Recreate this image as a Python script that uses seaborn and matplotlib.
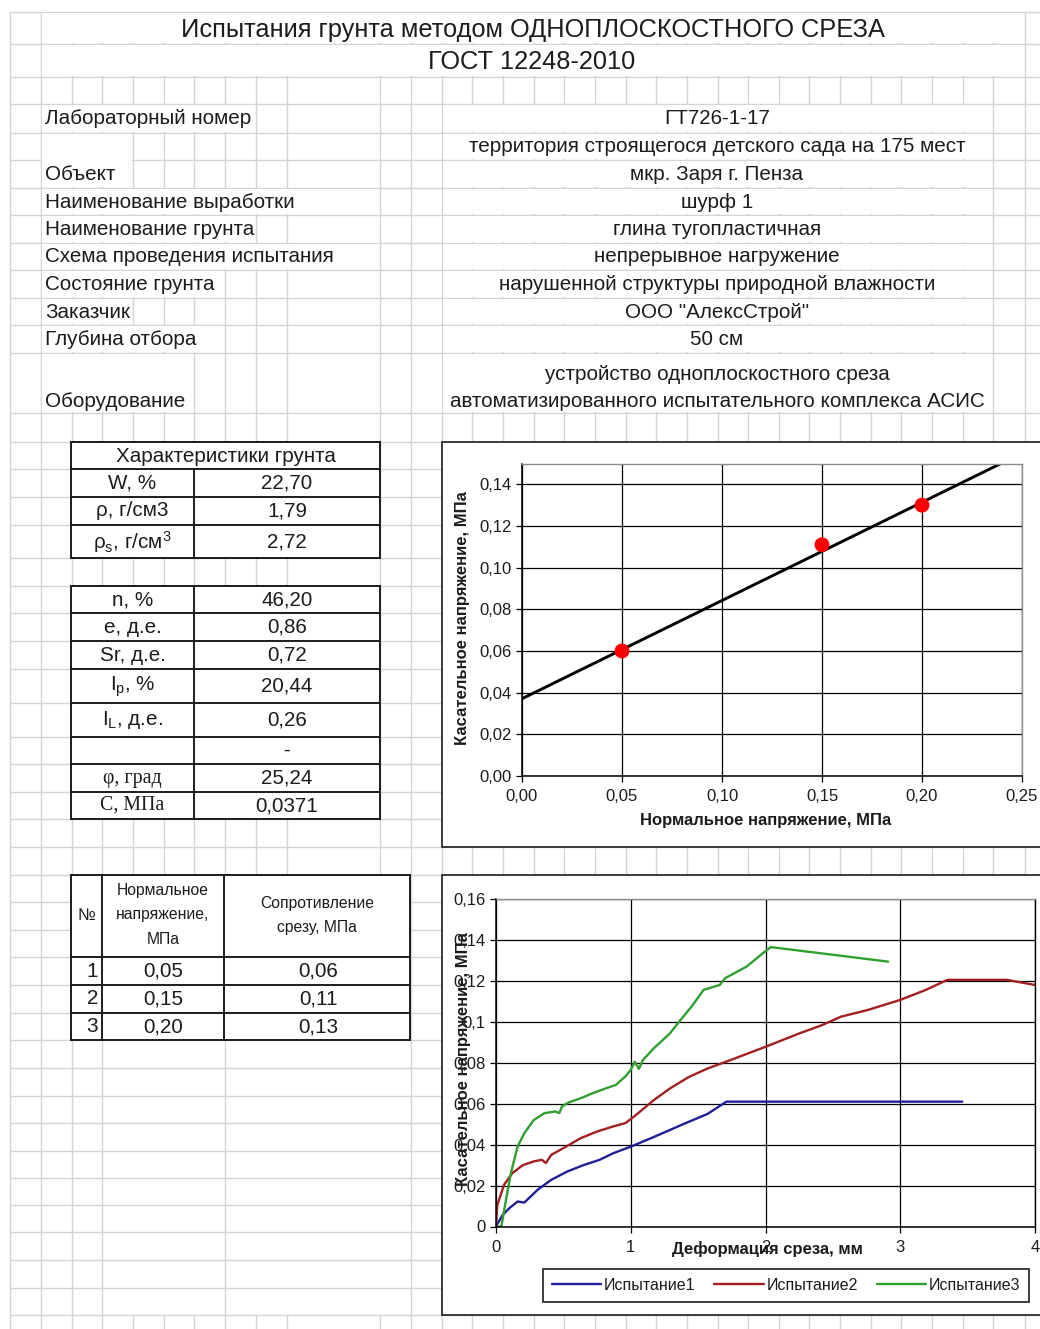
import numpy as np
import pandas as pd
import matplotlib
matplotlib.use("Agg")
import matplotlib.pyplot as plt
import matplotlib.ticker as mticker
from matplotlib.patches import Rectangle
from matplotlib.collections import LineCollection
import seaborn as sns

# ====================== DATA ======================
title_lines = ["Испытания грунта методом ОДНОПЛОСКОСТНОГО СРЕЗА", "ГОСТ 12248-2010"]

info_labels = ["Лабораторный номер", "Объект", "Наименование выработки", "Наименование грунта",
               "Схема проведения испытания", "Состояние грунта", "Заказчик", "Глубина отбора",
               "Оборудование"]
info_values = ["ГТ726-1-17",
               "территория строящегося детского сада на 175 мест",
               "мкр. Заря г. Пенза",
               "шурф 1",
               "глина тугопластичная",
               "непрерывное нагружение",
               "нарушенной структуры природной влажности",
               "ООО \"АлексСтрой\"",
               "50 см",
               "устройство одноплоскостного среза",
               "автоматизированного испытательного комплекса АСИС"]

soil_header = "Характеристики грунта"
soil_names_1 = ["W, %", "ρ, г/см3", r"$\mathregular{\rho_s}$, г/см$\mathregular{^3}$"]
soil_values_1 = ["22,70", "1,79", "2,72"]
soil_names_2 = ["n, %", "e, д.е.", "Sr, д.е.", r"$\mathregular{I_p}$, %", r"$\mathregular{I_L}$, д.е.",
                "", "φ, град", "С, МПа"]
soil_values_2 = ["46,20", "0,86", "0,72", "20,44", "0,26", "-", "25,24", "0,0371"]

shear_header = ["№", "Нормальное\nнапряжение,\nМПа", "Сопротивление\nсрезу, МПа"]
test_no = [1, 2, 3]
normal_stress = [0.05, 0.15, 0.20]      # МПа
shear_resist = [0.060, 0.111, 0.130]    # МПа

friction_angle = 25.24   # град
cohesion = 0.0371        # МПа
fit_sigma = [0.0, 0.25]

series_names = ["Испытание1", "Испытание2", "Испытание3"]
series_colors = ["#1f1f99", "#a31f1f", "#2f9f2f"]

def1 = [0.00, 0.05, 0.10, 0.16, 0.21, 0.31, 0.41, 0.53, 0.65, 0.77, 0.87, 1.00, 1.17, 1.40,
        1.57, 1.71, 2.00, 2.50, 3.00, 3.46]
tau1 = [0.000, 0.0057, 0.0090, 0.0122, 0.0117, 0.0180, 0.0228, 0.0269, 0.0300, 0.0326, 0.0358,
        0.0390, 0.0437, 0.0503, 0.0550, 0.0610, 0.0610, 0.0610, 0.0610, 0.0610]

def2 = [0.00, 0.01, 0.06, 0.12, 0.20, 0.28, 0.34, 0.37, 0.41, 0.50, 0.63, 0.75, 0.87, 0.96,
        1.03, 1.17, 1.29, 1.43, 1.57, 1.74, 2.00, 2.25, 2.42, 2.56, 2.76, 3.00, 3.19, 3.35,
        3.79, 4.00]
tau2 = [0.000, 0.0106, 0.0204, 0.0260, 0.0300, 0.0318, 0.0326, 0.0310, 0.0350, 0.0383, 0.0432,
        0.0464, 0.0489, 0.0505, 0.0540, 0.0617, 0.0674, 0.0730, 0.0772, 0.0813, 0.0878, 0.0943,
        0.0984, 0.1025, 0.1058, 0.1107, 0.1156, 0.1205, 0.1205, 0.1180]

def3 = [0.02, 0.04, 0.074, 0.11, 0.16, 0.21, 0.28, 0.36, 0.44, 0.47, 0.49, 0.54, 0.63, 0.72,
        0.82, 0.89, 0.96, 1.00, 1.03, 1.06, 1.09, 1.17, 1.29, 1.36, 1.46, 1.54, 1.66, 1.70,
        1.86, 1.98, 2.04, 2.91]
tau3 = [0.000, 0.000, 0.0130, 0.0260, 0.0390, 0.0456, 0.0520, 0.0554, 0.0562, 0.0554, 0.0587,
        0.0606, 0.0627, 0.0652, 0.0676, 0.0692, 0.0733, 0.0765, 0.0805, 0.0770, 0.0813, 0.0870,
        0.0943, 0.1001, 0.1082, 0.1156, 0.1180, 0.1213, 0.1270, 0.1335, 0.1365, 0.1294]

# ====================== STYLE ======================
sns.set_theme(style="white")
plt.rcParams["font.family"] = ["Liberation Sans", "DejaVu Sans"]
plt.rcParams["mathtext.default"] = "regular"

W, H = 1040, 1329
fig = plt.figure(figsize=(W / 100, H / 100), dpi=100)
fig.patch.set_facecolor("white")
bg = fig.add_axes([0, 0, 1, 1])
bg.set_xlim(0, W)
bg.set_ylim(H, 0)
bg.axis("off")

def fx(x):
    return x / W

def fy(y):
    return 1 - y / H

GRID = "#d4d4d4"
INK = "#1c1c1c"
SHEET_FS = 14.9

cols = [10, 41, 72, 102, 133, 164, 194, 225, 256, 287, 380, 411, 442, 472, 503, 534, 564, 595,
        626, 656, 687, 718, 748, 779, 809, 840, 871, 901, 932, 963, 993, 1025]
rows = [11.7, 44, 76.7, 104.3, 132.7, 160, 187.7, 215, 242.7, 270, 297.7, 325, 352.7, 413.3,
        441.7, 469.3, 496.7, 525, 558.3, 585.7, 613.3, 641, 669.3, 703.3, 736.7, 764.3, 791.7,
        819.3, 847, 875, 901.7, 930, 957.3, 985, 1012.7, 1040.4, 1068, 1095.7, 1123.3, 1150.5,
        1177.7, 1205, 1232.3, 1260, 1287.7, 1315]

# columns merged (no vertical grid) in the block below the shear table
merged_below = {133, 164, 194, 256, 287, 380}
segs = [[(10, r), (W, r)] for r in rows]
for c in cols:
    if c in merged_below:
        segs += [[(c, 11.7), (c, 1040.4)], [(c, 1315), (c, H)]]
    else:
        segs.append([(c, 11.7), (c, H)])
bg.add_collection(LineCollection(segs, colors=GRID, linewidths=1.0, zorder=1))

def mask(x0, y0, x1, y1):
    bg.add_patch(Rectangle((x0 + 0.9, y0 + 0.9), x1 - x0 - 1.8, y1 - y0 - 1.8,
                           facecolor="white", edgecolor="none", zorder=2))

def text(x, y, s, ha="center", size=SHEET_FS, **kw):
    return bg.text(x, y, s, ha=ha, va="center", fontsize=size, color=INK, zorder=6, **kw)

# ---- title ----
mask(41, 11.7, 1025, 44)
mask(41, 44, 1025, 76.7)
text(533, 29.5, title_lines[0], size=18.3)
text(532, 62, title_lines[1], size=18.3)

# ---- info block ----
renderer = fig.canvas.get_renderer()
label_bands = [(104.3, 132.7), (132.7, 187.7), (187.7, 215), (215, 242.7), (242.7, 270),
               (270, 297.7), (297.7, 325), (325, 352.7), (352.7, 413.3)]
label_y = [119, 174.5, 202, 229.5, 257, 284.5, 312, 339.5, 401.5]
for lab, (b0, b1), yy in zip(info_labels, label_bands, label_y):
    t = text(45, yy, lab, ha="left")
    bb = t.get_window_extent(renderer=renderer)
    xend = bg.transData.inverted().transform((bb.x1, bb.y0))[0]
    cend = min(c for c in cols if c >= xend - 1)
    mask(41, b0, cend, b1)

value_bands = [(104.3, 132.7), (132.7, 160), (160, 187.7), (187.7, 215), (215, 242.7),
               (242.7, 270), (270, 297.7), (297.7, 325), (325, 352.7), (352.7, 413.3)]
for b0, b1 in value_bands:
    mask(442, b0, 993, b1)
value_y = [119, 147, 174.5, 202, 229.5, 257, 284.5, 312, 339.5, 375, 401.5]
for v, yy in zip(info_values, value_y):
    text(717, yy, v)

# ---- tables ----
def hline(x0, x1, y):
    bg.plot([x0, x1], [y, y], color=INK, lw=1.4, zorder=5, solid_capstyle="projecting")

def vline(x, y0, y1):
    bg.plot([x, x], [y0, y1], color=INK, lw=1.4, zorder=5, solid_capstyle="projecting")

def table(x0, x1, rlines, vcols):
    mask(x0, rlines[0], x1, rlines[-1])
    for r in rlines:
        hline(x0, x1, r)
    vline(x0, rlines[0], rlines[-1])
    vline(x1, rlines[0], rlines[-1])
    for c, ys, ye in vcols:
        vline(c, ys, ye)

t1_rows = [441.7, 469.3, 496.7, 525, 558.3]
table(71, 380, t1_rows, [(194, 469.3, 558.3)])
text(225.5, 456, soil_header)
for i, (nm, vv) in enumerate(zip(soil_names_1, soil_values_1)):
    yc = (t1_rows[i + 1] + t1_rows[i + 2]) / 2
    text(132.5, yc, nm)
    text(287, yc, vv)

t2_rows = [585.7, 613.3, 641, 669.3, 703.3, 736.7, 764.3, 791.7, 819.3]
table(71, 380, t2_rows, [(194, 585.7, 819.3)])
for i, (nm, vv) in enumerate(zip(soil_names_2, soil_values_2)):
    yc = (t2_rows[i] + t2_rows[i + 1]) / 2
    if nm in ("φ, град", "С, МПа"):
        text(132.5, yc, nm, family=["Liberation Serif", "DejaVu Serif"], size=14.3)
    else:
        text(132.5, yc, nm)
    text(287, yc, vv)

t3_rows = [875, 957.3, 985, 1012.7, 1040.4]
table(71, 410, t3_rows, [(101.7, 875, 1040.4), (224.3, 875, 1040.4)])
text(86.5, 916, shear_header[0], size=12)
text(163, 915, shear_header[1], size=11.3, linespacing=1.8)
text(317, 915.5, shear_header[2], size=11.3, linespacing=1.8)
for i, (n, s, tau) in enumerate(zip(test_no, normal_stress, shear_resist)):
    yc = (t3_rows[i + 1] + t3_rows[i + 2]) / 2
    text(98, yc, str(n), ha="right")
    text(163, yc, f"{s:.2f}".replace(".", ","))
    text(318, yc, f"{tau:.2f}".replace(".", ","))

# ---- chart frames ----
for y0, y1 in [(441.7, 847), (875, 1315)]:
    bg.add_patch(Rectangle((441.5, y0), 700, y1 - y0, facecolor="white",
                           edgecolor=INK, lw=1.2, zorder=7))

TICK_FS = 12
LBL_FS = 12

def style_axes(ax):
    ax.set_facecolor("white")
    ax.grid(True, color="black", lw=0.9)
    ax.set_axisbelow(True)
    for s in ("left", "bottom"):
        ax.spines[s].set_color("black")
        ax.spines[s].set_linewidth(1.1)
    for s in ("top", "right"):
        ax.spines[s].set_color("#8c8c8c")
        ax.spines[s].set_linewidth(1.0)
    ax.tick_params(axis="both", which="major", direction="out", length=4.5, width=0.9,
                   color="black", labelsize=TICK_FS, labelcolor=INK,
                   bottom=True, left=True)

# ---- chart 1: Coulomb envelope ----
ax1 = fig.add_axes([fx(522), fy(776), (1022 - 522) / W, (776 - 463.5) / H], zorder=10)
style_axes(ax1)
fit_tau = [cohesion + np.tan(np.radians(friction_angle)) * s for s in fit_sigma]
sns.lineplot(x=fit_sigma, y=fit_tau, ax=ax1, color="black", lw=2.1)
sns.scatterplot(x=normal_stress, y=shear_resist, ax=ax1, color="#ff0000", s=115,
                edgecolor="none", zorder=5)
ax1.set_xlim(0, 0.25)
ax1.set_ylim(0, 0.15)
ax1.xaxis.set_major_locator(mticker.MultipleLocator(0.05))
ax1.yaxis.set_major_locator(mticker.FixedLocator(np.arange(0, 0.141, 0.02)))
comma2 = mticker.FuncFormatter(lambda v, p: f"{v:.2f}".replace(".", ","))
ax1.xaxis.set_major_formatter(comma2)
ax1.yaxis.set_major_formatter(comma2)
ax1.tick_params(axis="x", pad=5)
ax1.tick_params(axis="y", pad=3)
ax1.set_xlabel("Нормальное напряжение, МПа", fontsize=LBL_FS, fontweight="bold", color=INK)
ax1.set_ylabel("Касательное напряжение, МПа", fontsize=LBL_FS, fontweight="bold", color=INK)
ax1.xaxis.set_label_coords(0.487, -0.144)
ax1.xaxis.label.set_va("center")
ax1.yaxis.set_label_coords(-0.118, 0.505)
ax1.yaxis.label.set_va("center")

# ---- chart 2: shear curves ----
ax2 = fig.add_axes([fx(496), fy(1226.5), (1035 - 496) / W, (1226.5 - 899) / H], zorder=10)
style_axes(ax2)
curves = pd.concat([
    pd.DataFrame({"def": def1, "tau": tau1, "test": series_names[0]}),
    pd.DataFrame({"def": def2, "tau": tau2, "test": series_names[1]}),
    pd.DataFrame({"def": def3, "tau": tau3, "test": series_names[2]}),
], ignore_index=True)
sns.lineplot(data=curves, x="def", y="tau", hue="test", palette=series_colors, sort=False,
             estimator=None, lw=1.7, ax=ax2, legend=False)
ax2.set_xlim(0, 4)
ax2.set_ylim(0, 0.16)
ax2.xaxis.set_major_locator(mticker.MultipleLocator(1))
ax2.yaxis.set_major_locator(mticker.FixedLocator(np.arange(0, 0.161, 0.02)))
ax2.xaxis.set_major_formatter(mticker.FuncFormatter(lambda v, p: f"{v:g}"))
ax2.yaxis.set_major_formatter(mticker.FuncFormatter(
    lambda v, p: "0" if abs(v) < 1e-9 else f"{v:.2f}".rstrip("0").replace(".", ",")))
ax2.tick_params(axis="x", pad=5)
ax2.tick_params(axis="y", pad=3)
ax2.set_xlabel("Деформация среза, мм", fontsize=LBL_FS, fontweight="bold", color=INK)
ax2.set_ylabel("Касательное напряжение, МПа", fontsize=LBL_FS, fontweight="bold", color=INK)
ax2.xaxis.set_label_coords(0.503, -0.069)
ax2.xaxis.label.set_va("center")
ax2.yaxis.set_label_coords(-0.061, 0.51)
ax2.yaxis.label.set_va("center")
ax2.spines["right"].set_color("black")

leg = ax2.legend(ax2.get_lines(), series_names, loc="center",
                 bbox_to_anchor=(fx(786), fy(1285.5)), bbox_transform=fig.transFigure,
                 ncol=3, frameon=True, fancybox=False, framealpha=1, edgecolor=INK,
                 fontsize=11.5, handlelength=3.1, handletextpad=0.15, columnspacing=1.2,
                 borderpad=0.55, borderaxespad=0)
leg.get_frame().set_linewidth(1.2)
for t in leg.get_texts():
    t.set_color(INK)

fig.savefig("out.png", dpi=100, facecolor="white")
